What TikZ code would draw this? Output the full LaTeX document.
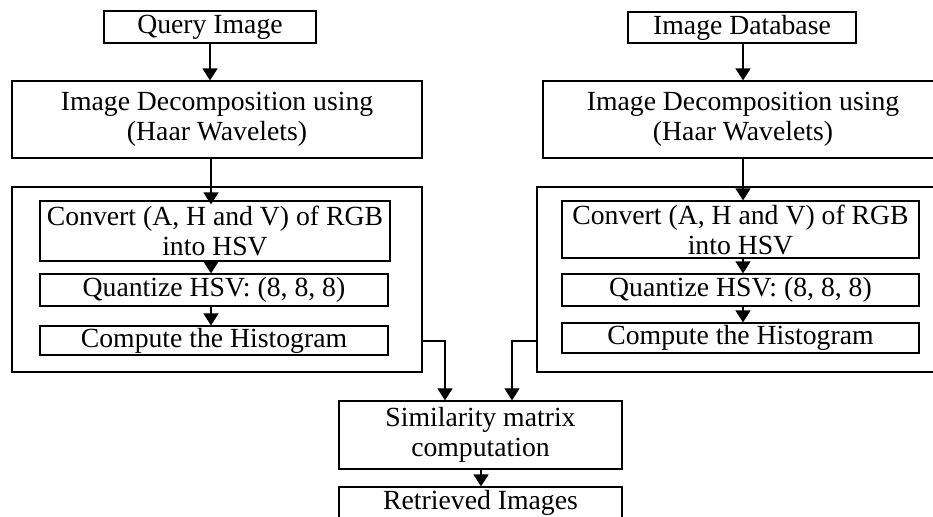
\documentclass[tikz,border=0pt]{standalone}
\usepackage{fontspec}
\setmainfont{Liberation Serif}
\usetikzlibrary{arrows.meta}
\begin{document}
\begin{tikzpicture}[x=1pt,y=-1pt,
  txt/.style={inner sep=0pt,align=center,
    font=\fontsize{27.7}{30}\selectfont,text=black},
  box/.style={txt,draw=black,line width=1.2pt},
  frame/.style={draw=black,line width=1.2pt,inner sep=0pt},
  arr/.style={line width=1.5pt,-{Triangle[width=15pt,length=12pt]}},
  link/.style={line width=1.1pt,-{Triangle[width=15pt,length=12pt]}}]
\useasboundingbox (0,0) rectangle (933,516);
\clip (0,0) rectangle (933,516);
% left column
\node[box,minimum width=212pt,minimum height=32pt] (q) at (210,27) {Query Image};
\node[box,minimum width=410pt,minimum height=77pt] (dL) at (217,119.5) {Image Decomposition using\\(Haar Wavelets)};
\node[frame,minimum width=410pt,minimum height=185pt] (oL) at (217,279.5) {};
\node[box,minimum width=350pt,minimum height=60pt] (cL) at (215,231) {Convert (A, H and V) of RGB\\into HSV};
\node[box,minimum width=348pt,minimum height=32pt] (qL) at (214,290) {Quantize HSV: (8, 8, 8)};
\node[box,minimum width=348pt,minimum height=29pt] (hL) at (214,340.5) {Compute the Histogram};
% right column
\node[box,minimum width=228pt,minimum height=31pt] (db) at (742,27.5) {Image Database};
\node[box,minimum width=410pt,minimum height=77pt] (dR) at (748,119.5) {};
\node[txt] (dRt) at (743,119.5) {Image Decomposition using\\(Haar Wavelets)};
\node[frame,minimum width=420pt,minimum height=185pt] (oR) at (747,279.5) {};
\node[box,minimum width=357pt,minimum height=57pt] (cR) at (740.5,229.5) {Convert (A, H and V) of RGB\\into HSV};
\node[box,minimum width=357pt,minimum height=32pt] (qR) at (740.5,290) {Quantize HSV: (8, 8, 8)};
\node[box,minimum width=357pt,minimum height=30pt] (hR) at (740.5,338) {Compute the Histogram};
% bottom
\node[box,minimum width=283pt,minimum height=68pt] (sim) at (480.5,435) {Similarity matrix\\computation};
\node[box,minimum width=283pt,minimum height=31pt] (ret) at (480.5,502.5) {Retrieved Images};
% coordinates for connectors
\coordinate (lx) at (445,341);
\coordinate (rx) at (512,341);
% arrows
\draw[arr] (q.south) -- (q.south |- dL.north);
\draw[arr] ([xshift=1pt]q.south |- dL.south) -- ([xshift=1pt,yshift=-4pt]q.south |- cL.north);
\draw[arr] (cL.south -| 211,0) -- (qL.north -| 211,0);
\draw[arr] (qL.south -| 211,0) -- (hL.north -| 211,0);
\draw[arr] (db.south -| 743,0) -- (dR.north -| 743,0);
\draw[arr] (dR.south -| 743,0) -- (cR.north -| 743,0);
\draw[arr] (cR.south -| 743,0) -- (qR.north -| 743,0);
\draw[arr] (qR.south -| 743,0) -- (hR.north -| 743,0);
\draw[link] (oL.east |- lx) -- (lx) -- (lx |- sim.north);
\draw[link] (oR.west |- rx) -- (rx) -- (rx |- sim.north);
\draw[arr] (sim.south -| 481,0) -- (ret.north -| 481,0);
\end{tikzpicture}
\end{document}
